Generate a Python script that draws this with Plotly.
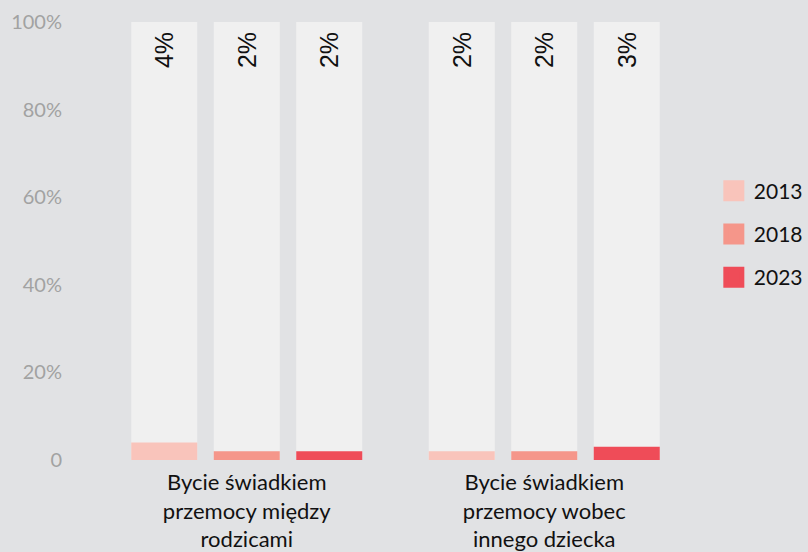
import plotly.graph_objects as go

categories = ["Bycie świadkiem<br>przemocy między<br>rodzicami",
              "Bycie świadkiem<br>przemocy wobec<br>innego dziecka"]
years = ["2013", "2018", "2023"]
values = {
    "2013": [4, 2],
    "2018": [2, 2],
    "2023": [2, 3],
}
colors = {"2013": "#f9c4bb", "2018": "#f5968a", "2023": "#ef4c58"}
y_ticks = [0, 20, 40, 60, 80, 100]
y_tick_labels = ["0", "20%", "40%", "60%", "80%", "100%"]

BG = "#e1e2e4"
fig = go.Figure()

for yr in years:
    fig.add_trace(go.Bar(
        x=categories, y=[100] * len(categories), offsetgroup=yr,
        marker=dict(color="#f0f0f0", line=dict(width=0)),
        text=[f"{v}%" + "\u00a0" for v in values[yr]],
        textposition="inside", insidetextanchor="end", textangle=-90,
        textfont=dict(family="Liberation Sans, Arial", size=25, color="#111111"),
        showlegend=False, hoverinfo="skip", cliponaxis=False,
    ))
    fig.add_trace(go.Bar(
        x=categories, y=values[yr], offsetgroup=yr, name=yr,
        marker=dict(color=colors[yr], line=dict(width=0)),
        showlegend=False,
    ))

for i, yr in enumerate(years):
    fig.add_trace(go.Scatter(
        x=[None], y=[None], mode="markers", name=yr, legendgroup=yr,
        marker=dict(symbol="square", size=16, color=colors[yr],
                    line=dict(color=colors[yr], width=6)),
    ))

fig.update_layout(
    width=808, height=552,
    paper_bgcolor=BG, plot_bgcolor=BG,
    margin=dict(l=98, r=115, t=22, b=92, autoexpand=False),
    barmode="group", bargap=0.168, bargroupgap=0.2,
    font=dict(family="Lato", color="#111111"),
    showlegend=True,
    legend=dict(x=1.035, xanchor="left", y=0.516, yanchor="middle",
                font=dict(family="Lato", size=21, color="#111111"),
                tracegroupgap=13, bgcolor="rgba(0,0,0,0)"),
    xaxis=dict(showgrid=False, showline=False, zeroline=False, ticks="",
               tickfont=dict(family="Lato", size=22, color="#111111"),
               ticklabelstandoff=7, automargin=False,
               range=[-0.5, 1.5]),
    yaxis=dict(range=[0, 100], tickvals=y_ticks, ticktext=y_tick_labels,
               showgrid=False, zeroline=False, showline=False, ticks="",
               tickfont=dict(family="Lato", size=20, color="#a2a2a2"),
               ticklabelstandoff=35, automargin=False),
)

fig.write_html("out.html", config={"displayModeBar": False},
               post_script="document.body.style.margin='0';")
